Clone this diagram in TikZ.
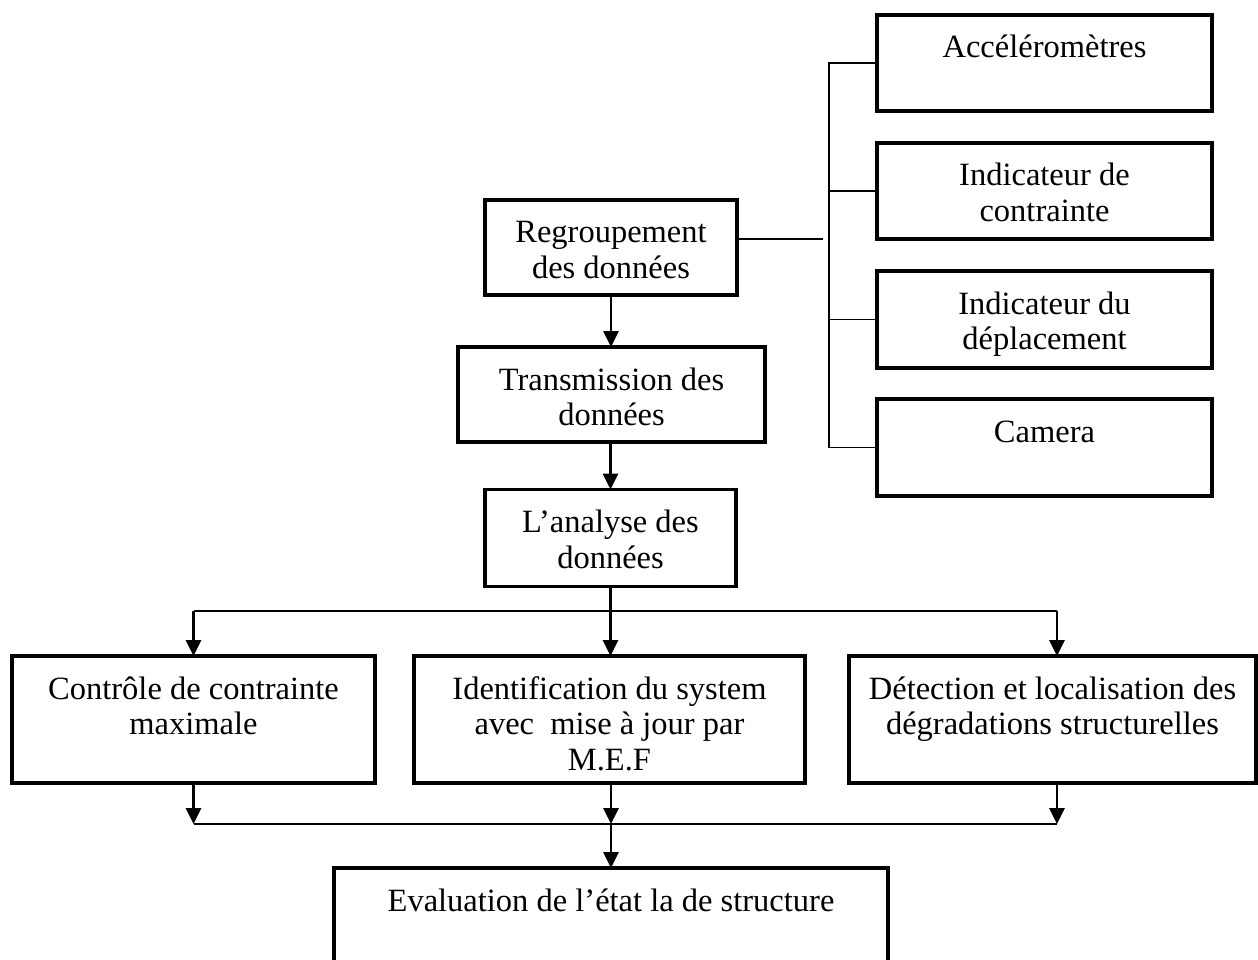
\documentclass[tikz,border=0pt]{standalone}
\usepackage{fontspec}
\setmainfont{Liberation Serif}
\usetikzlibrary{arrows.meta}
\newcommand\mybt[3]{\parbox[c][#2pt][t]{#1pt}{\centering\rule{0pt}{43pt}#3}}
\begin{document}
\begin{tikzpicture}[x=1pt,y=-1pt,
  box/.style={draw, line width=3.8pt, inner sep=0pt, outer sep=0pt, font=\fontsize{32.5}{35.8}\selectfont},
  thinline/.style={line width=1.8pt},
  arr/.style={line width=2.8pt, -{Triangle[length=16pt,width=15pt]}},
]
\useasboundingbox (0,0) rectangle (1258,960);
% left column
\node[box] (regr) at (611,247.5) {\mybt{252}{95}{Regroupement\\des données}};
\node[box] (trans) at (611.5,394.5) {\mybt{307}{95}{Transmission des\\données}};
\node[box] (analyse) at (610.5,538) {\mybt{251}{97}{L’analyse des\\données}};
% sensors
\node[box] (acc) at (1044.5,63) {\mybt{335}{96}{Accéléromètres}};
\node[box] (ind1) at (1044.5,191) {\mybt{335}{96}{Indicateur de\\contrainte}};
\node[box] (ind2) at (1044.5,319.5) {\mybt{335}{97}{Indicateur du\\déplacement}};
\node[box] (cam) at (1044.5,447.5) {\mybt{335}{97}{Camera}};
% middle row
\node[box] (ctrl) at (193.5,719.5) {\mybt{363}{127}{Contrôle de contrainte\\maximale}};
\node[box] (ident) at (609.5,719.5) {\mybt{391}{127}{Identification du system\\avec~ mise à jour par\\M.E.F}};
\node[box] (detect) at (1052.5,719.5) {\mybt{407}{127}{Détection et localisation des\\dégradations structurelles}};
% bottom
\node[box] (eval) at (611,929) {\mybt{554}{122}{Evaluation de l’état la de structure}};
% coordinates
\coordinate (bx) at (829,0);
\coordinate (rt) at (823,239);
\coordinate (tb) at (0,611);
\coordinate (bb) at (0,824);
\coordinate (dx) at (1057,0);
% sensor bus
\draw[thinline] (rt -| regr.east) -- (rt);
\draw[thinline] (acc.west) -- (acc.west -| bx) -- (cam.west -| bx) -- (cam.west);
\draw[thinline] (ind1.west) -- (ind1.west -| bx);
\draw[thinline] (ind2.west) -- (ind2.west -| bx);
% vertical chain
\draw[arr] (regr.south) -- (regr.south |- trans.north);
\draw[arr] (trans.south -| analyse.south) -- (analyse.north);
\draw[arr] (analyse.south) -- (analyse.south |- ident.north);
% top distribution bus
\draw[thinline] (tb -| ctrl.north) -- (tb -| dx);
\draw[arr] (tb -| ctrl.north) -- (ctrl.north);
\draw[arr] (tb -| dx) -- (dx |- detect.north);
% bottom collection bus
\draw[arr] (ctrl.south) -- (bb -| ctrl.south);
\draw[arr] (ident.south -| eval.north) -- (bb -| eval.north);
\draw[arr] (dx |- detect.south) -- (bb -| dx);
\draw[thinline] (bb -| ctrl.south) -- (bb -| dx);
\draw[arr] (bb -| eval.north) -- (eval.north);
\end{tikzpicture}
\end{document}
